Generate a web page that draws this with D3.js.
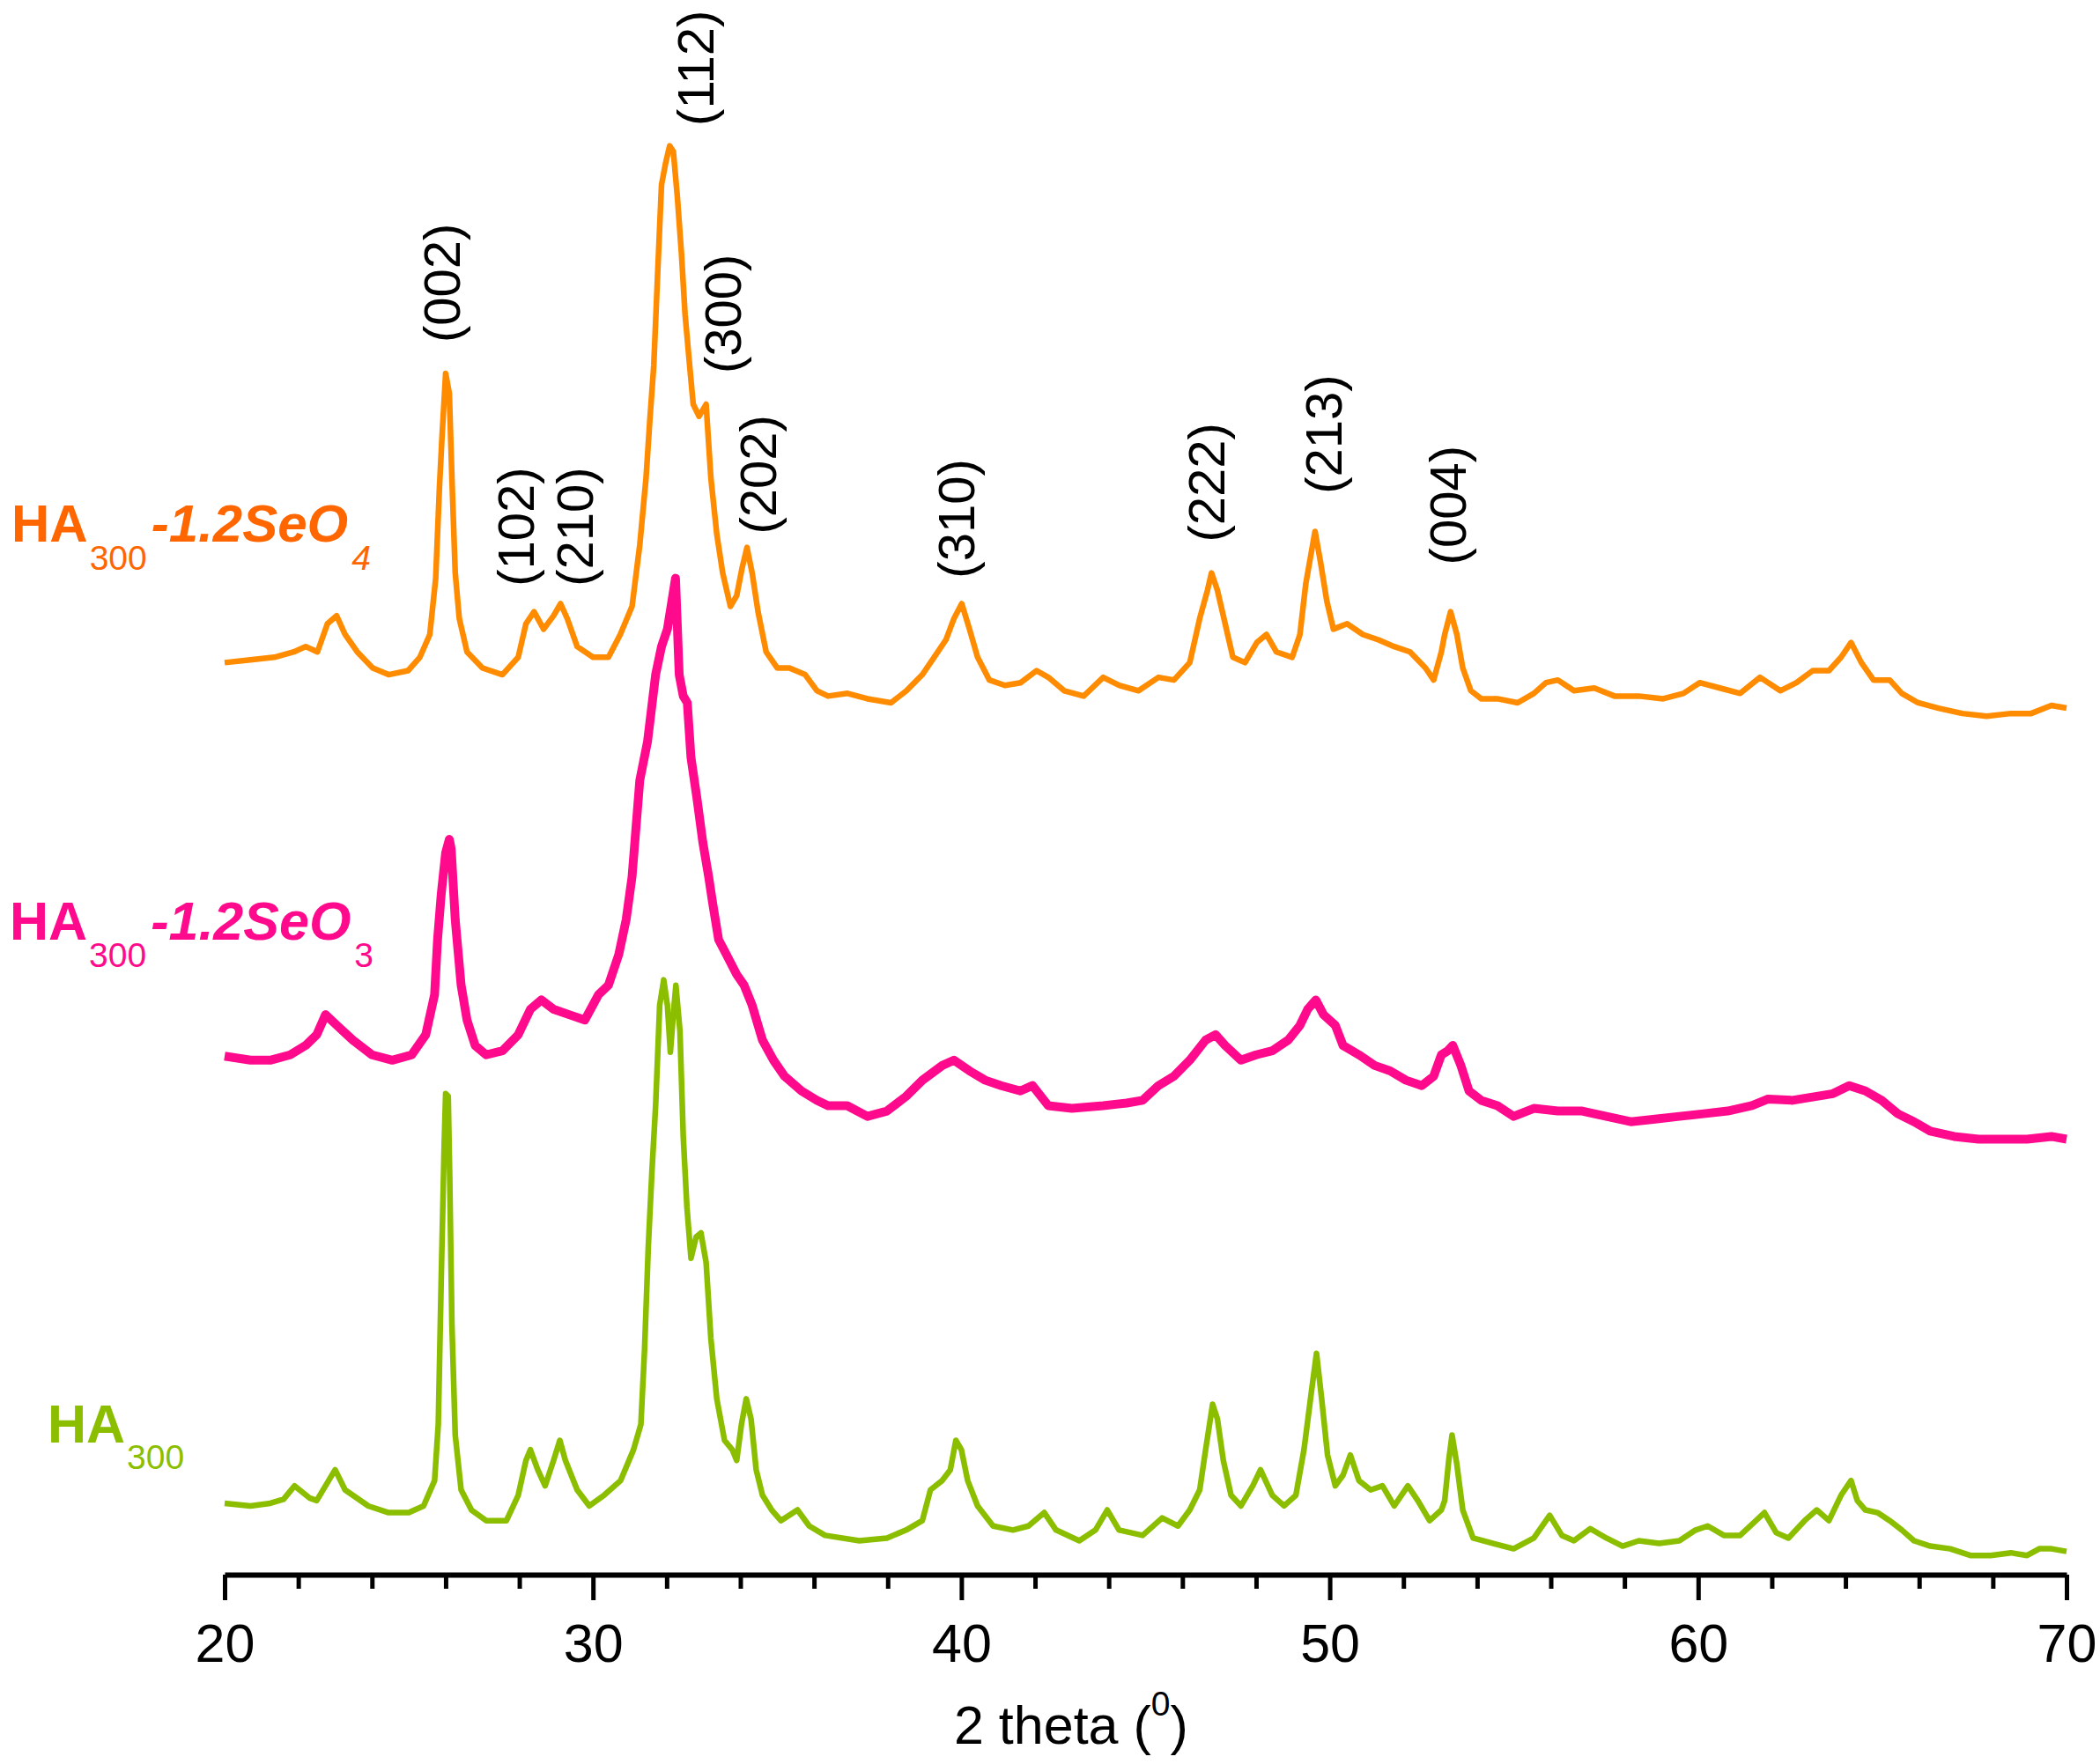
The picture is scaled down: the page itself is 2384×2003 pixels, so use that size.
<!DOCTYPE html>
<html>
<head>
<meta charset="utf-8">
<script src="https://cdn.jsdelivr.net/npm/d3@7"></script>
<style>
body { margin: 0; background: #fff; }
text { font-family: Arial, 'Liberation Sans', sans-serif; }
</style>
</head>
<body>
<svg id="chart"></svg>
<script>
"use strict";

const CHART_WIDTH = 2384;
const CHART_HEIGHT = 2003;

// x axis (2 theta, degrees)
const xDomain = [20, 70];
const majorTicks = [20, 30, 40, 50, 60, 70];
const minorTicks = [22, 24, 26, 28, 32, 34, 36, 38, 42, 44, 46, 48, 52, 54, 56, 58, 62, 64, 66, 68];

// samples, bottom to top, and their vertical offset (a.u.)
const sampleNames = ['HA300', 'HA300-1.2SeO3', 'HA300-1.2SeO4'];
const sampleOffsets = [0, 320, 640];

// [2theta, intensity a.u.]
const ha300 = [
	[20.0,54],[20.7,52],[21.24,54],[21.6,57],[21.9,67],[22.3,58],[22.5,56],[23.0,79],[23.27,64],[23.9,52],
	[24.45,47],[25.0,47],[25.4,52],[25.7,71],[25.8,113],[25.88,222],[25.96,321],[26.0,360],[26.07,358],[26.11,298],
	[26.17,188],[26.26,105],[26.42,64],[26.7,49],[27.1,41],[27.65,41],[27.97,60],[28.18,86],[28.3,94],[28.5,79],
	[28.7,67],[28.93,86],[29.1,101],[29.25,86],[29.57,64],[29.9,52],[30.3,60],[30.75,71],[31.1,94],[31.3,113],
	[31.4,169],[31.5,245],[31.6,302],[31.7,351],[31.81,426],[31.92,445],[32.02,426],[32.1,391],[32.18,419],[32.25,441],
	[32.36,407],[32.45,328],[32.55,275],[32.66,237],[32.8,253],[32.93,256],[33.07,234],[33.2,177],[33.36,132],[33.57,101],
	[33.78,94],[33.9,86],[34.03,113],[34.16,132],[34.29,117],[34.43,79],[34.6,60],[34.85,49],[35.1,41],[35.55,49],
	[35.87,37],[36.3,30],[37.23,26],[37.98,28],[38.5,34],[38.94,41],[39.16,64],[39.48,71],[39.7,79],[39.85,101],
	[40.0,94],[40.17,71],[40.44,52],[40.86,37],[41.4,34],[41.82,37],[42.25,47],[42.57,34],[43.2,26],[43.64,34],
	[43.96,49],[44.28,34],[44.92,30],[45.45,43],[45.88,37],[46.2,49],[46.47,64],[46.63,94],[46.82,128],[46.95,117],
	[47.11,86],[47.32,60],[47.59,52],[47.91,67],[48.12,79],[48.44,60],[48.76,52],[49.08,60],[49.3,94],[49.51,139],
	[49.64,166],[49.78,132],[49.94,90],[50.15,67],[50.36,75],[50.56,90],[50.79,71],[51.11,64],[51.43,67],[51.75,52],
	[52.12,67],[52.39,56],[52.71,41],[53.03,49],[53.12,56],[53.23,86],[53.32,105],[53.45,83],[53.61,49],[53.89,28],
	[54.44,24],[54.99,20],[55.54,28],[55.97,45],[56.3,30],[56.63,26],[57.07,35],[57.51,28],[57.95,22],[58.39,26],
	[58.94,24],[59.49,26],[59.93,34],[60.26,37],[60.7,30],[61.14,30],[61.57,41],[61.8,47],[62.12,32],[62.45,28],
	[62.89,41],[63.22,49],[63.55,41],[63.88,60],[64.15,71],[64.32,56],[64.54,49],[64.87,47],[65.2,41],[65.53,34],
	[65.86,26],[66.3,22],[66.84,20],[67.39,15],[67.94,15],[68.49,17],[68.93,15],[69.26,20],[69.59,20],[70.0,18]
];

const ha300SeO3 = [
	[20.0,68],[20.7,65],[21.24,65],[21.78,69],[22.2,76],[22.5,84],[22.74,99],[23.05,91],[23.48,80],[24.0,69],
	[24.55,65],[25.08,69],[25.46,84],[25.7,114],[25.78,155],[25.88,189],[26.0,220],[26.1,230],[26.15,223],[26.26,170],
	[26.42,121],[26.58,95],[26.8,76],[27.1,69],[27.54,72],[27.97,84],[28.3,103],[28.6,110],[28.93,103],[29.35,99],
	[29.78,95],[30.15,114],[30.42,121],[30.7,144],[30.9,170],[31.06,202],[31.27,274],[31.48,303],[31.7,353],[31.86,374],
	[32.02,387],[32.13,406],[32.24,425],[32.34,353],[32.45,337],[32.56,332],[32.66,291],[32.82,261],[32.98,228],[33.14,202],
	[33.25,182],[33.41,155],[33.62,144],[33.9,129],[34.1,121],[34.32,106],[34.6,80],[34.9,65],[35.2,53],[35.66,42],
	[36.08,35],[36.38,31],[36.9,31],[37.45,23],[37.98,27],[38.5,38],[38.94,50],[39.48,61],[39.8,65],[40.22,57],
	[40.65,50],[41.08,46],[41.6,42],[41.93,46],[42.36,31],[43.0,29],[43.85,31],[44.49,33],[44.92,35],[45.35,46],
	[45.77,53],[46.2,65],[46.63,80],[46.9,84],[47.16,76],[47.59,65],[48.0,69],[48.44,72],[48.87,80],[49.19,91],
	[49.4,103],[49.62,110],[49.83,99],[50.15,91],[50.36,76],[50.79,69],[51.22,61],[51.64,57],[52.07,50],[52.5,46],
	[52.82,53],[53.03,69],[53.2,72],[53.34,76],[53.56,61],[53.78,42],[54.11,35],[54.55,31],[54.99,23],[55.54,29],
	[56.19,27],[56.85,27],[57.51,23],[58.17,19],[58.83,21],[59.49,23],[60.15,25],[60.8,27],[61.46,31],[61.9,36],
	[62.56,35],[63.22,38],[63.66,40],[64.1,46],[64.54,42],[64.98,35],[65.42,25],[65.86,19],[66.3,12],[66.95,8],
	[67.61,6],[68.27,6],[68.93,6],[69.59,8],[70.0,6]
];

const ha300SeO4 = [
	[20.0,42],[20.7,44],[21.35,46],[21.88,50],[22.2,54],[22.52,50],[22.79,71],[23.04,77],[23.27,63],[23.6,50],
	[24.02,38],[24.45,33],[24.98,36],[25.3,46],[25.57,63],[25.73,105],[25.83,172],[25.9,210],[26.0,258],[26.1,243],
	[26.17,180],[26.26,109],[26.37,75],[26.58,50],[27.0,38],[27.54,33],[27.97,46],[28.18,71],[28.4,80],[28.66,67],
	[28.93,77],[29.12,86],[29.3,75],[29.57,54],[30.0,46],[30.42,46],[30.74,63],[31.06,84],[31.27,130],[31.44,180],
	[31.54,222],[31.65,264],[31.76,336],[31.86,399],[31.97,415],[32.08,428],[32.18,424],[32.29,390],[32.4,348],[32.5,302],
	[32.61,268],[32.72,235],[32.88,226],[33.07,235],[33.2,180],[33.36,138],[33.52,109],[33.73,84],[33.9,92],[34.05,113],
	[34.18,128],[34.32,109],[34.48,80],[34.7,50],[35.0,38],[35.33,38],[35.76,33],[36.08,21],[36.38,17],[36.91,19],
	[37.45,15],[38.09,12],[38.51,21],[38.94,33],[39.26,46],[39.58,59],[39.8,75],[40.01,86],[40.22,67],[40.44,46],
	[40.76,29],[41.18,25],[41.61,27],[42.04,36],[42.36,31],[42.79,21],[43.32,17],[43.85,31],[44.28,25],[44.81,21],
	[45.35,31],[45.77,29],[46.2,42],[46.47,75],[46.68,96],[46.79,109],[46.95,96],[47.16,71],[47.37,46],[47.7,42],
	[48.02,57],[48.28,63],[48.55,50],[48.98,46],[49.19,63],[49.35,101],[49.51,126],[49.6,140],[49.75,117],[49.92,88],
	[50.1,67],[50.47,71],[50.9,63],[51.32,59],[51.75,54],[52.18,50],[52.6,38],[52.82,29],[53.03,50],[53.12,63],
	[53.28,80],[53.45,63],[53.61,38],[53.83,21],[54.11,15],[54.55,15],[55.1,12],[55.54,19],[55.87,27],[56.19,29],
	[56.63,21],[57.18,23],[57.73,17],[58.39,17],[59.05,15],[59.6,19],[60.04,27],[60.59,23],[61.14,19],[61.68,31],
	[62.23,21],[62.67,27],[63.11,36],[63.55,36],[63.88,46],[64.15,57],[64.43,42],[64.76,29],[65.2,29],[65.53,19],
	[65.97,12],[66.52,8],[67.17,4],[67.83,2],[68.49,4],[69.04,4],[69.59,10],[70.0,8]
];

// Miller indices marked above the top pattern
const peakHkl = ['(002)', '(102)', '(210)', '(112)', '(300)', '(202)', '(310)', '(222)', '(213)', '(004)'];
const peakPos = [26.01, 28.03, 29.61, 32.9, 33.63, 34.59, 39.97, 46.76, 49.94, 53.31];
const peakLevel = [921, 739, 739, 1083, 898, 778, 745, 772, 808, 755];

const lineColors = ['#8cbe00', '#ff0a8c', '#ff8c00'];
const labelColors = ['#8cbe00', '#ff0a8c', '#ff6600'];
const lineWidths = [6.5, 10, 6.5];

const svg = d3.select('#chart')
	.attr('width', CHART_WIDTH)
	.attr('height', CHART_HEIGHT)
	.style('background', '#fff');

const AXIS_Y = 1788;

const x = d3.scaleLinear().domain(xDomain).range([255, 2346]);
const y = d3.scaleLinear().domain([0, 1177]).range([1789, 0]);

// patterns
const patterns = [ha300, ha300SeO3, ha300SeO4];
const line = d3.line()
	.x(d => x(d[0]))
	.y(d => y(d[1]));

svg.append('g')
	.selectAll('path')
	.data(patterns)
	.join('path')
	.attr('d', (d, i) => line(d.map(p => [p[0], p[1] + sampleOffsets[i]])))
	.attr('fill', 'none')
	.attr('stroke', (d, i) => lineColors[i])
	.attr('stroke-width', (d, i) => lineWidths[i])
	.attr('stroke-linejoin', 'round');

// x axis
const gAxis = svg.append('g').attr('transform', `translate(0,${AXIS_Y})`);

gAxis.append('g')
	.call(d3.axisBottom(x).tickValues(minorTicks).tickSize(16).tickSizeOuter(0).tickFormat(''))
	.call(g => g.select('.domain').remove());

gAxis.append('g')
	.call(d3.axisBottom(x).tickValues(majorTicks).tickSize(29).tickSizeOuter(0).tickFormat(d3.format('d')))
	.call(g => g.select('.domain').attr('stroke-width', 6).attr('stroke', '#000'))
	.call(g => g.selectAll('text')
		.attr('y', 99)
		.attr('dy', 0)
		.attr('fill', '#000')
		.style('font-size', '61px'));

gAxis.selectAll('.tick line')
	.attr('stroke', '#000')
	.attr('stroke-width', 5);

const title = svg.append('text')
	.attr('x', 1083)
	.attr('y', 1980)
	.attr('fill', '#000')
	.style('font-size', '61px');
title.append('tspan').text('2 theta (');
title.append('tspan').attr('dy', -32).style('font-size', '39px').text('0');
title.append('tspan').attr('dy', 32).text(')');

// hkl labels, rotated
svg.append('g')
	.selectAll('text')
	.data(peakHkl)
	.join('text')
	.attr('transform', (d, i) => `translate(${x(peakPos[i])},${y(peakLevel[i])}) rotate(-90)`)
	.attr('dy', '0.27em')
	.attr('fill', '#000')
	.style('font-size', '58px')
	.text(d => d);

// sample labels
function sampleLabel(i, lx, ly, size, subDy, parts){
	const t = svg.append('text')
		.attr('x', lx)
		.attr('y', ly)
		.attr('fill', labelColors[i]);
	t.append('tspan')
		.style('font-size', size + 'px')
		.style('font-weight', 'bold')
		.text('HA');
	t.append('tspan')
		.attr('dy', subDy)
		.attr('dx', 2)
		.style('font-size', '39px')
		.text('300');
	if(parts){
		t.append('tspan')
			.attr('dy', -subDy)
			.attr('dx', 5)
			.style('font-size', size + 'px')
			.style('font-weight', 'bold')
			.style('font-style', 'italic')
			.text(parts[0]);
		t.append('tspan')
			.attr('dy', subDy)
			.attr('dx', 4)
			.style('font-size', '39px')
			.style('font-style', parts[2] ? 'italic' : 'normal')
			.text(parts[1]);
	}
}

sampleLabel(2, 13, 615, 60, 32, ['-1.2SeO', '4', true]);
sampleLabel(1, 11, 1067, 61, 31, ['-1.2SeO', '3', false]);
sampleLabel(0, 54, 1638, 61, 30, null);
</script>
</body>
</html>
